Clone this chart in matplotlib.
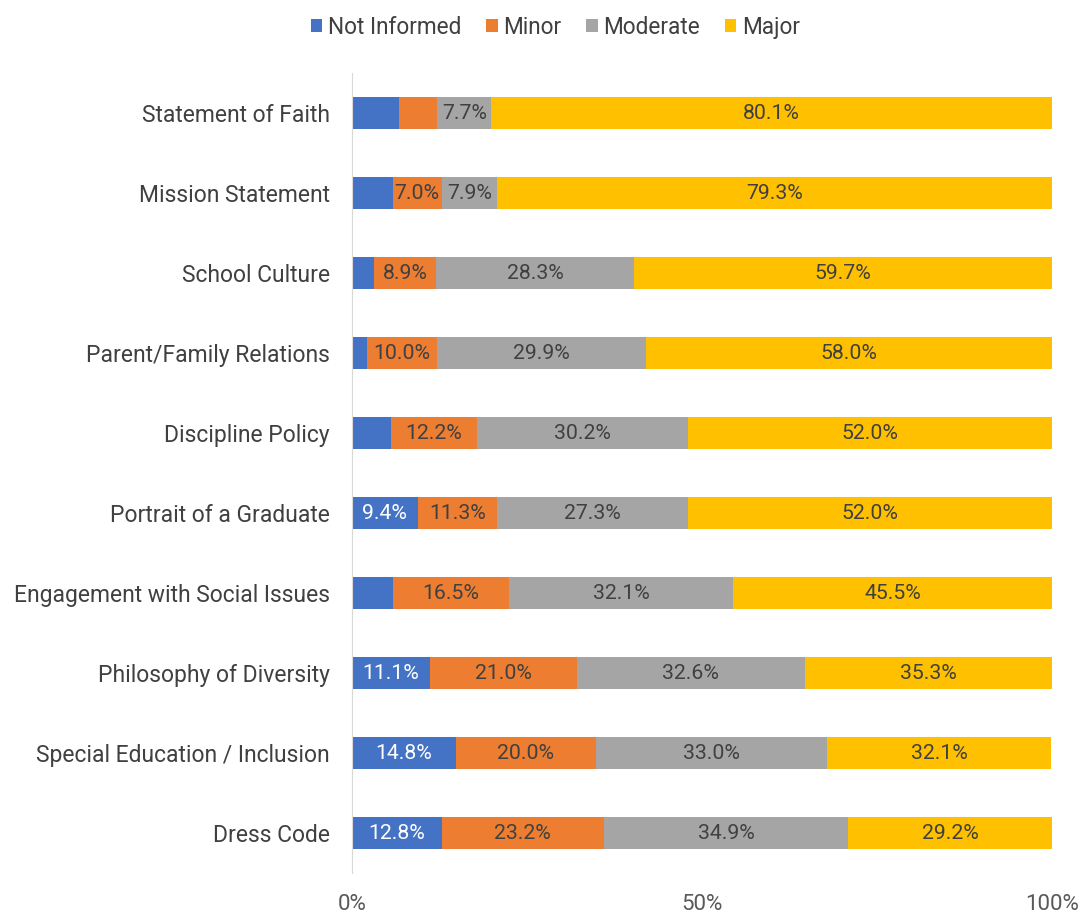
import numpy as np
import matplotlib
matplotlib.use('Agg')
import matplotlib.pyplot as plt

plt.rcParams['font.family'] = ['Roboto', 'DejaVu Sans']

# datos (porcentajes)
categories = ['Statement of Faith', 'Mission Statement', 'School Culture',
              'Parent/Family Relations', 'Discipline Policy', 'Portrait of a Graduate',
              'Engagement with Social Issues', 'Philosophy of Diversity',
              'Special Education / Inclusion', 'Dress Code']
not_informed = [6.7, 5.8, 3.1, 2.1, 5.6, 9.4, 5.9, 11.1, 14.8, 12.8]
minor = [5.5, 7.0, 8.9, 10.0, 12.2, 11.3, 16.5, 21.0, 20.0, 23.2]
moderate = [7.7, 7.9, 28.3, 29.9, 30.2, 27.3, 32.1, 32.6, 33.0, 34.9]
major = [80.1, 79.3, 59.7, 58.0, 52.0, 52.0, 45.5, 35.3, 32.1, 29.2]

series = ['Not Informed', 'Minor', 'Moderate', 'Major']
colors = ['#4472C4', '#ED7D31', '#A5A5A5', '#FFC000']
label_colors = ['white', '#404040', '#404040', '#404040']

fig = plt.figure(figsize=(10.85, 9.13), dpi=100)
ax = fig.add_axes([0.3244, 0.0438, 0.6452, 0.8762])

y = np.arange(len(categories))
left = np.zeros(len(categories))
for name, vals, c, tc in zip(series, [not_informed, minor, moderate, major],
                             colors, label_colors):
    vals = np.array(vals)
    ax.barh(y, vals, left=left, height=0.4, color=c, label=name)
    for yi, l, v in zip(y, left, vals):
        if v >= 7:
            ax.text(l + v / 2, yi, f'{v:.1f}%', ha='center', va='center',
                    color=tc, fontsize=15.3)
    left += vals

ax.set_xlim(0, 100)
ax.set_ylim(len(categories) - 0.5, -0.5)
ax.set_yticks(y)
ax.set_yticklabels(categories, fontsize=16.5, color='#404040')
ax.set_xticks([0, 50, 100])
ax.set_xticklabels(['0%', '50%', '100%'], fontsize=16, color='#595959')
ax.tick_params(axis='both', length=0)
ax.tick_params(axis='y', pad=16)
ax.tick_params(axis='x', pad=15)
for s in ['top', 'right', 'bottom']:
    ax.spines[s].set_visible(False)
ax.spines['left'].set_color('#D9D9D9')

fig.legend(loc='upper center', bbox_to_anchor=(0.512, 1.005), ncol=4, frameon=False,
           fontsize=16.3, handlelength=0.5, handleheight=0.5, handletextpad=0.25,
           columnspacing=1.1, labelcolor='#404040')

fig.savefig('out.png', dpi=100)
